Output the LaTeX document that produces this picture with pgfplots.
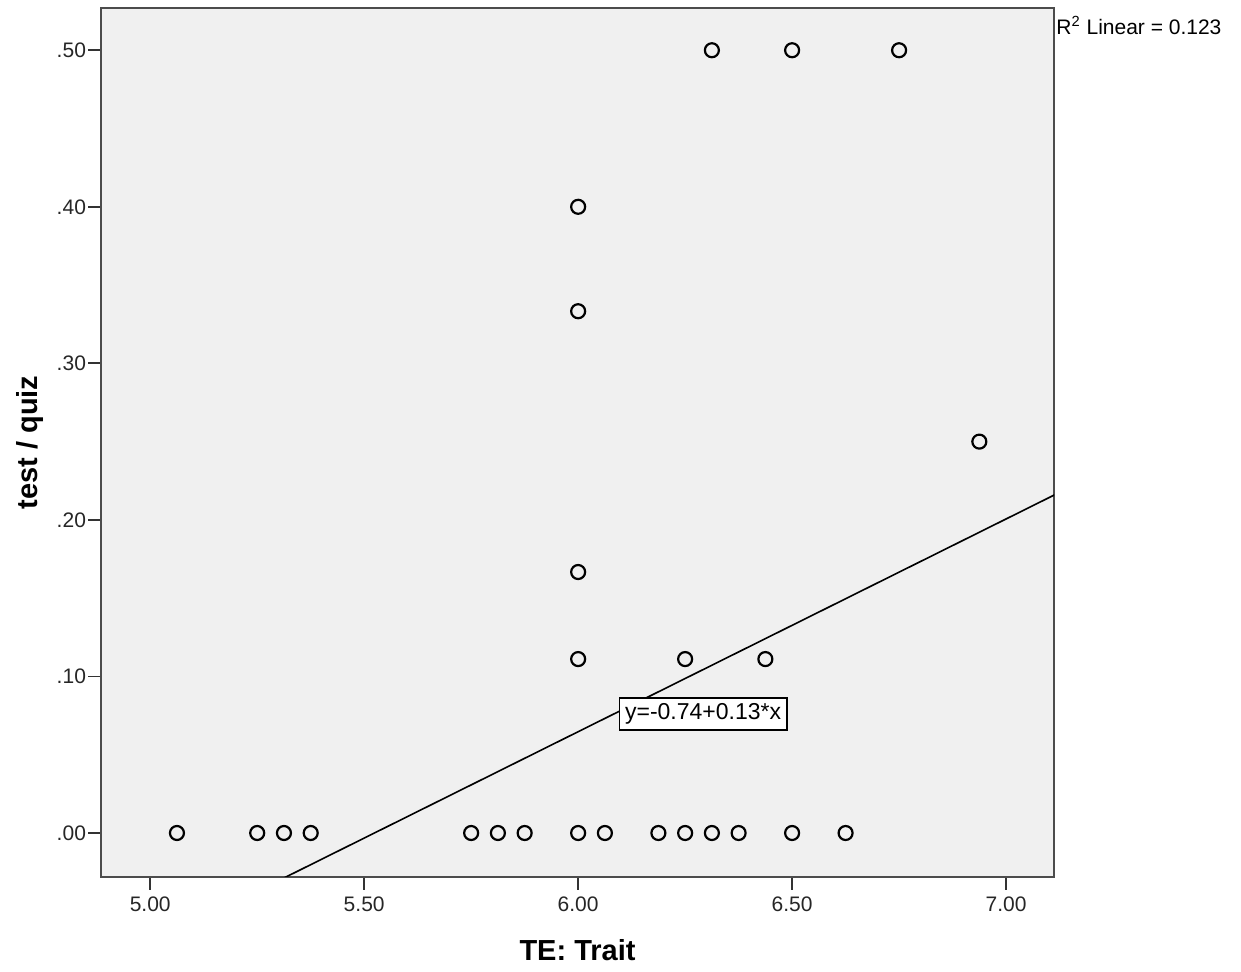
\documentclass[border=0pt]{standalone}
\usepackage{pgfplots}
\pgfplotsset{compat=1.18}
\usepackage{fontspec}
\setmainfont{Liberation Sans}
\begin{document}
\begin{tikzpicture}
\path[use as bounding box] (0,0) rectangle (620.5pt,486pt);
\begin{axis}[
  at={(50.5pt,47.5pt)}, anchor=south west,
  scale only axis, width=476.5pt, height=434.5pt,
  xmin=4.885, xmax=7.112, ymin=-0.0281, ymax=0.527,
  axis background/.style={fill=black!6},
  axis line style={draw=black!70, line width=1pt},
  tick style={black!80, line width=0.9pt},
  major tick length=6.5pt,
  tick align=outside,
  xtick pos=left, ytick pos=left,
  xtick={5,5.5,6,6.5,7},
  xticklabels={5.00,5.50,6.00,6.50,7.00},
  ytick={0,0.1,0.2,0.3,0.4,0.5},
  yticklabels={.00,.10,.20,.30,.40,.50},
  ticklabel style={font=\fontsize{10.5}{12}\selectfont, text=black!85},
  yticklabel style={xshift=2.5pt},
  xlabel={\bfseries TE: Trait},
  ylabel={\bfseries test / quiz},
  label style={font=\fontsize{14.5}{16}\selectfont},
  xlabel style={at={(axis description cs:0.5,-0.084)}, anchor=center},
  ylabel style={at={(axis description cs:-0.0745,0.5)}, anchor=center},
  clip mode=individual,
]
\addplot[black, line width=0.8pt] coordinates {(5.2,-0.04402) (7.2,0.22778)};
\addplot[only marks, mark=o, mark size=3.5pt, mark options={black, line width=1.1pt}] coordinates {
(5.0625,0) (5.25,0) (5.3125,0) (5.375,0) (5.75,0) (5.8125,0) (5.875,0)
(6,0) (6.0625,0) (6.1875,0) (6.25,0) (6.3125,0) (6.375,0) (6.5,0) (6.625,0)
(6.3125,0.5) (6.5,0.5) (6.75,0.5)
(6,0.4) (6,0.3333) (6.9375,0.25) (6,0.1667)
(6,0.1111) (6.25,0.1111) (6.4375,0.1111)
};
\node[draw=black, line width=0.9pt, fill=white, inner sep=2.8pt, font=\fontsize{11.5}{13}\selectfont] at (axis cs:6.292,0.076) {y=-0.74+0.13*x};
\node[anchor=west, inner sep=1pt, font=\fontsize{10.5}{12}\selectfont] at (rel axis cs:1.0,0.98) {R\textsuperscript{2} Linear = 0.123};
\end{axis}
\end{tikzpicture}
\end{document}
